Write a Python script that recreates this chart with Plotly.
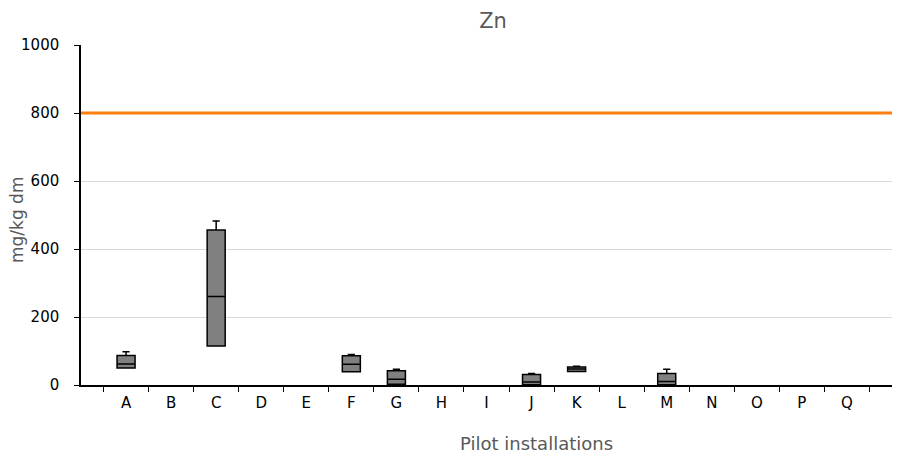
import plotly.graph_objects as go

categories = list("ABCDEFGHIJKLMNOPQ")
box_cats = ["A", "C", "F", "G", "J", "K", "M"]
q1 = [50, 115, 39, 2, 1, 40, 1]
median = [62, 260, 61, 17, 9, 47, 10]
q3 = [87, 456, 86, 42, 31, 53, 34]
lowerfence = [50, 115, 39, 2, 1, 40, 1]
upperfence = [98, 482, 90, 46, 34, 55, 46]
threshold = 800

fig = go.Figure()
fig.add_trace(go.Box(
    x=box_cats, q1=q1, median=median, q3=q3,
    lowerfence=lowerfence, upperfence=upperfence,
    fillcolor="#808080", line=dict(color="black", width=1.5),
    width=0.4, whiskerwidth=0.4, showlegend=False, hoverinfo="skip",
))
fig.add_shape(type="line", xref="paper", yref="y", x0=0, x1=1,
              y0=threshold, y1=threshold,
              line=dict(color="#FF7F0E", width=3))

font = "DejaVu Sans, Verdana, sans-serif"
fig.update_layout(
    width=907, height=457,
    margin=dict(l=81, r=15, t=45, b=72),
    plot_bgcolor="white", paper_bgcolor="white",
    title=dict(text="Zn", xref="paper", x=0.508, xanchor="center", y=0.955, yanchor="middle",
               font=dict(family=font, size=21, color="#595959")),
    font=dict(family=font, size=15, color="black"),
)
fig.add_annotation(text="Pilot installations", xref="paper", yref="paper",
                   x=0.562, y=0, xanchor="center", yanchor="middle", yshift=-58,
                   showarrow=False, font=dict(family=font, size=18, color="#595959"))
fig.add_annotation(text="mg/kg dm", xref="paper", yref="paper",
                   x=0, y=0.5, xanchor="center", yanchor="middle", xshift=-64,
                   yshift=-5, textangle=-90,
                   showarrow=False, font=dict(family=font, size=17, color="#595959"))
fig.update_xaxes(
    type="category", categoryorder="array", categoryarray=categories,
    range=[-1, 17], tickson="boundaries", ticks="outside", ticklen=5,
    tickcolor="black", showline=True, linecolor="black", linewidth=1.5,
    showgrid=False, zeroline=False, ticklabelstandoff=3, automargin=False,
)
fig.update_yaxes(
    range=[0, 1000], tickvals=[0, 200, 400, 600, 800, 1000],
    ticks="outside", ticklen=5, tickcolor="black", ticklabelstandoff=12,
    showline=True, linecolor="black", linewidth=1.5,
    showgrid=True, gridcolor="#D9D9D9", gridwidth=1, zeroline=False,
    automargin=False,
)
fig.write_html("out.html")
